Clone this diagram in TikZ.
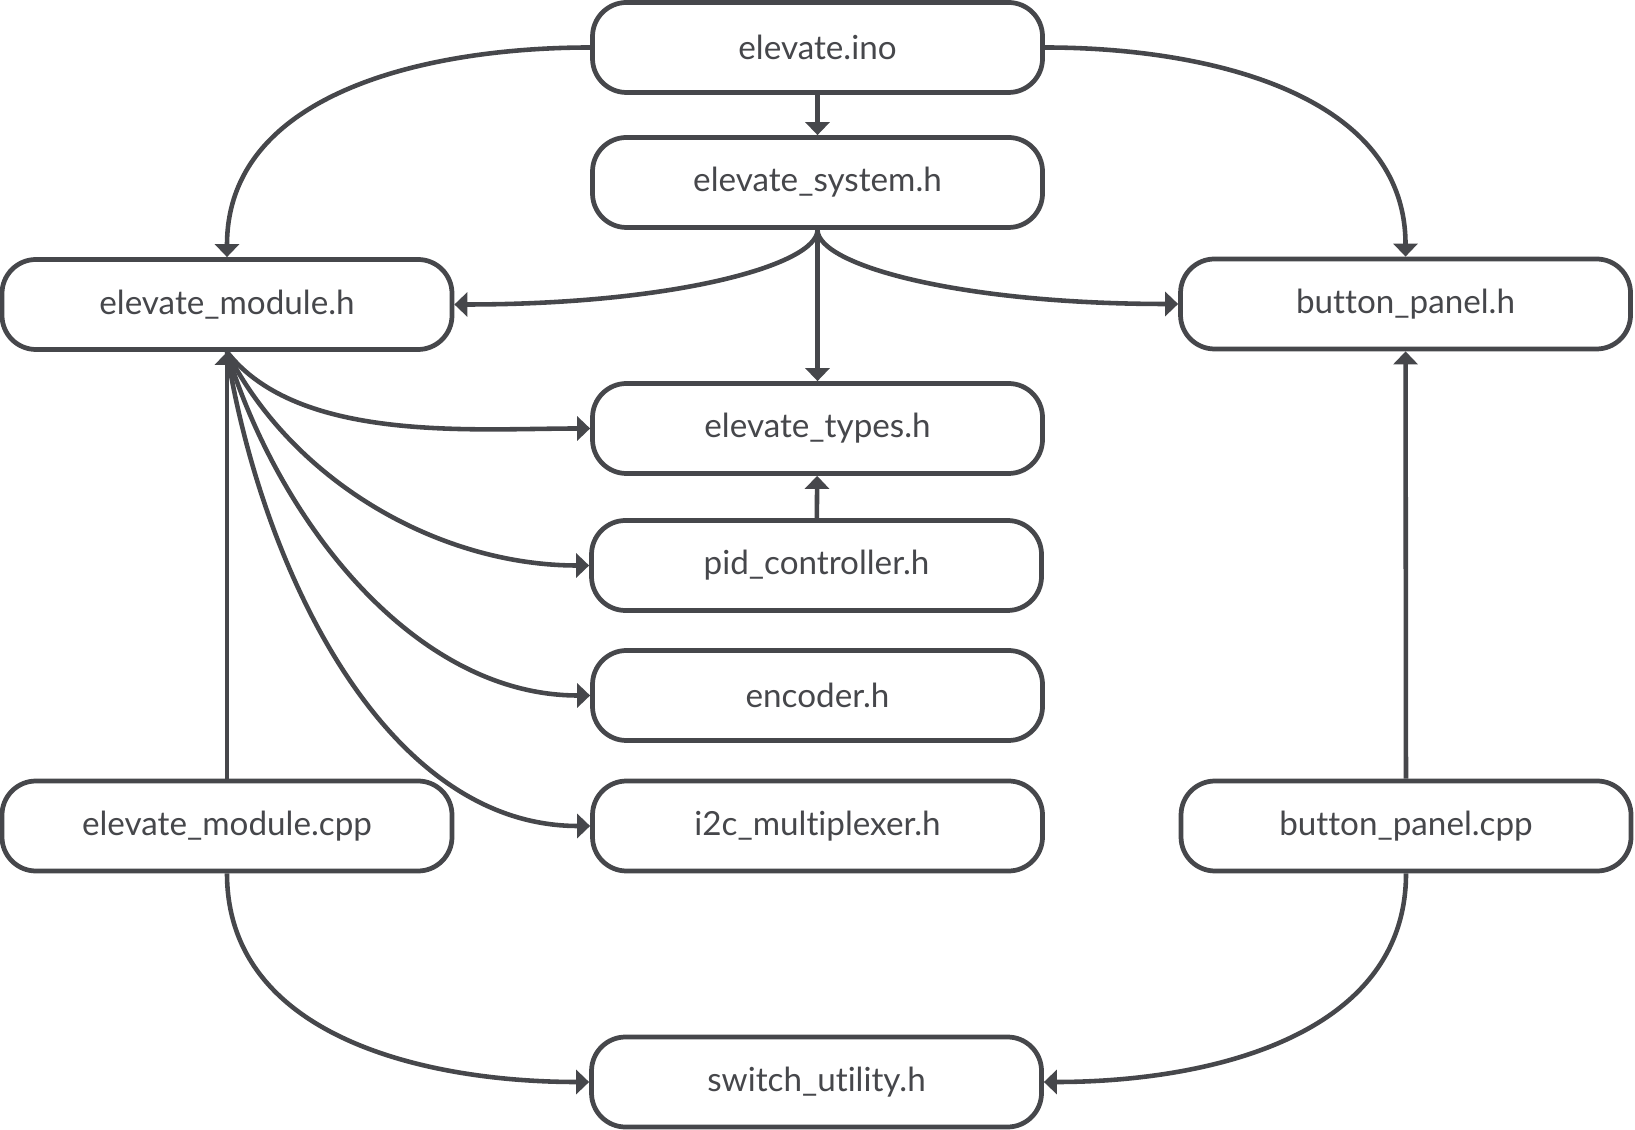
\documentclass[tikz,border=0pt]{standalone}
\usepackage{fontspec}
\setmainfont{Lato}[Ligatures=NoCommon]
\usepackage{tikz}
\usetikzlibrary{arrows.meta, positioning}
\definecolor{linegray}{HTML}{46474B}

\tikzset{
    filebox/.style={draw=linegray, line width=1.35pt, rounded corners=0.34cm, fill=white,
        minimum width=4.5cm, minimum height=0.9cm, text=linegray,
        font=\fontsize{9.45pt}{11pt}\selectfont},
    dep/.style={-{Triangle[length=0.13cm, width=0.24cm]}, draw=linegray, line width=1.3pt}
}

\begin{document}
\begin{tikzpicture}
    \useasboundingbox (0,0) rectangle (16.35,-11.30);
    % files
    \node[filebox] (ino) at (8.175,-0.475) {elevate.ino};
    \node[filebox] (system) at (8.175,-1.825) {elevate\_system.h};
    \node[filebox] (module) at (2.27,-3.045) {elevate\_module.h};
    \node[filebox] (panel) at (14.055,-3.04) {button\_panel.h};
    \node[filebox] (types) at (8.175,-4.285) {elevate\_types.h};
    \node[filebox] (pid) at (8.165,-5.655) {pid\_controller.h};
    \node[filebox] (encoder) at (8.175,-6.955) {encoder.h};
    \node[filebox] (mux) at (8.175,-8.26) {i2c\_multiplexer.h};
    \node[filebox] (modcpp) at (2.27,-8.26) {elevate\_module.cpp};
    \node[filebox] (panelcpp) at (14.06,-8.26) {button\_panel.cpp};
    \node[filebox] (switch) at (8.165,-10.82) {switch\_utility.h};

    % includes
    \draw[dep] (ino) -- (system);
    \draw[dep] (ino.west) to[out=180, in=90] (module.north);
    \draw[dep] (ino.east) to[out=0, in=90] (panel.north);
    \draw[dep] (system) -- (types);
    \draw[dep] (system.south) .. controls +(0,-0.35) and +(2.2,0) .. (module.east);
    \draw[dep] (system.south) .. controls +(0,-0.35) and +(-2.2,0) .. (panel.west);
    \draw[dep] (module.south) to[out=-52, in=180, looseness=0.8] (types.west);
    \draw[dep] (module.south) to[out=-63, in=180, looseness=0.9] (pid.west);
    \draw[dep] (module.south) to[out=-73, in=180, looseness=0.9] (encoder.west);
    \draw[dep] (module.south) to[out=-81, in=180, looseness=0.9] (mux.west);
    \draw[dep] (pid) -- (types);
    \draw[dep] (modcpp) -- (module);
    \draw[dep] (panelcpp) -- (panel);
    \draw[dep] (modcpp.south) to[out=-90, in=180] (switch.west);
    \draw[dep] (panelcpp.south) to[out=-90, in=0] (switch.east);
\end{tikzpicture}
\end{document}
